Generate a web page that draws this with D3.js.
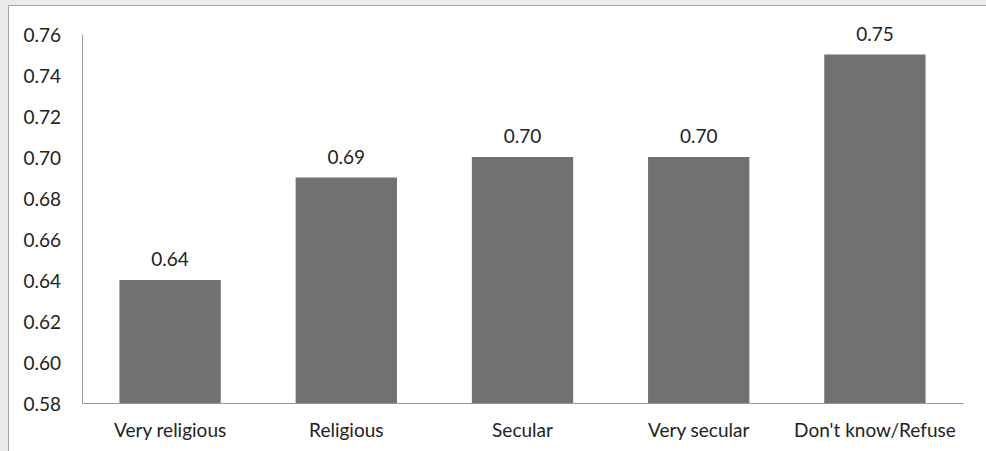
<!DOCTYPE html>
<meta charset="utf-8">
<style>
body { margin: 0; background: #ebebeb; }
svg { display: block; }
.axis text { font: 19px Lato, sans-serif; fill: #222; }
.axis path { stroke: #9a9a9a; }
.val { font: 19px Lato, sans-serif; fill: #222; text-anchor: middle; }
</style>
<body>
<svg id="chart" width="986" height="451"></svg>
<script src="https://cdn.jsdelivr.net/npm/d3@7"></script>
<script>
var categories = ["Very religious", "Religious", "Secular", "Very secular", "Don't know/Refuse"];
var values = [0.64, 0.69, 0.70, 0.70, 0.75];
var yTicks = [0.58, 0.60, 0.62, 0.64, 0.66, 0.68, 0.70, 0.72, 0.74, 0.76];

var svg = d3.select("#chart");

// white chart area with thin border
svg.append("rect")
    .attr("x", 8.5).attr("y", 5.5)
    .attr("width", 990).attr("height", 460)
    .attr("fill", "#fff")
    .attr("stroke", "#a6a6a6");

var margin = {left: 82, right: 23, top: 34, bottom: 48},
    width = 986 - margin.left - margin.right,
    height = 451 - margin.top - margin.bottom;

var g = svg.append("g")
    .attr("transform", "translate(" + margin.left + "," + margin.top + ")");

var x = d3.scaleBand()
    .domain(categories)
    .range([0, width])
    .paddingInner(0.425)
    .paddingOuter(0.2125);

var y = d3.scaleLinear()
    .domain([0.58, 0.76])
    .range([height, 0]);

// y axis
g.append("g")
    .attr("class", "axis")
    .call(d3.axisLeft(y).tickValues(yTicks).tickFormat(d3.format(".2f")).tickSize(0).tickPadding(21))
    .call(function(a) { a.selectAll("text").attr("dy", "0.35em").attr("y", 1); });

// x axis
g.append("g")
    .attr("class", "axis")
    .attr("transform", "translate(0," + height + ")")
    .call(d3.axisBottom(x).tickSize(0))
    .call(function(a) { a.selectAll("text").attr("dy", 0).attr("y", 34); });

g.selectAll(".bar")
    .data(values)
    .enter().append("rect")
    .attr("class", "bar")
    .attr("x", function(d, i) { return x(categories[i]); })
    .attr("width", x.bandwidth())
    .attr("y", function(d) { return y(d); })
    .attr("height", function(d) { return height - y(d); })
    .attr("fill", "#717171");

g.selectAll(".val")
    .data(values)
    .enter().append("text")
    .attr("class", "val")
    .attr("x", function(d, i) { return x(categories[i]) + x.bandwidth() / 2; })
    .attr("y", function(d) { return y(d) - 14; })
    .text(function(d) { return d.toFixed(2); });
</script>
</body>
